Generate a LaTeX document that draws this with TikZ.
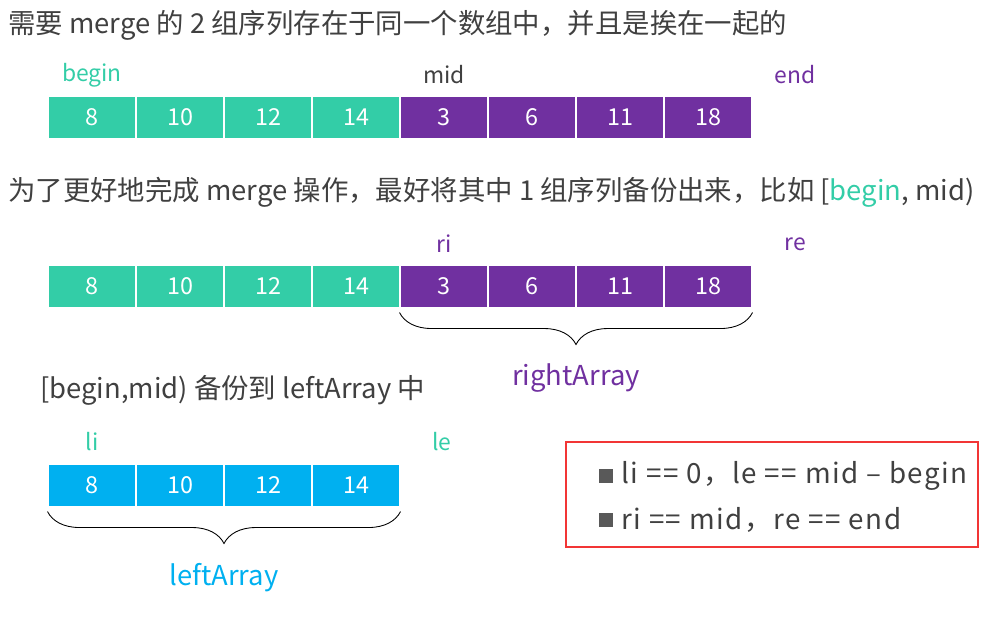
\documentclass[tikz,border=0pt]{standalone}
\usepackage{fontspec}
\setmainfont{Noto Sans CJK SC}
\usetikzlibrary{positioning,decorations.pathreplacing}
\definecolor{cgreen}{RGB}{51,205,167}
\definecolor{cpurple}{RGB}{112,48,160}
\definecolor{cblue}{RGB}{0,176,240}
\definecolor{ctext}{RGB}{64,64,64}
\definecolor{cred}{RGB}{242,53,53}
\definecolor{cbul}{RGB}{89,89,89}
\tikzset{
  ttl/.style={font=\fontsize{15.6}{18}\selectfont, text=ctext, inner sep=0pt},
  lbl/.style={font=\fontsize{13}{15}\selectfont, inner sep=0pt},
  cell/.style={draw=white, line width=0.6pt, text=white, minimum width=1.76cm,
    minimum height=0.86cm, inner sep=0pt, font=\fontsize{13.3}{15}\selectfont},
  brc/.style={decorate, decoration={brace, mirror, amplitude=0.64cm}, black, line width=0.5pt},
  arrlbl/.style={font=\fontsize{15.6}{18}\selectfont, inner sep=0pt},
  notebox/.style={draw=cred, line width=1.4pt, minimum width=8.24cm, minimum height=2.1cm},
  notetxt/.style={ttl, font=\fontsize{15.8}{18}\selectfont\addfontfeature{LetterSpace=5.5}},
  bul/.style={fill=cbul, minimum size=0.28cm, inner sep=0pt},
}
\begin{document}
\begin{tikzpicture}[x=0.02cm, y=-0.02cm]
\useasboundingbox (0,0) rectangle (999,617);
% first row: the whole array
\node[ttl, anchor=west] (t1) at (8,25) {需要 merge 的 2 组序列存在于同一个数组中，并且是挨在一起的};
\foreach \i/\v in {1/8, 2/10, 3/12, 4/14}{
  \node[cell, fill=cgreen] (a\i) at ({4+88*\i},117.5) {\v};}
\foreach \i/\v in {5/3, 6/6, 7/11, 8/18}{
  \node[cell, fill=cpurple] (a\i) at ({4+88*\i},117.5) {\v};}
\node[lbl, text=cgreen] (begin) at (92,75) {begin};
\node[lbl, text=ctext] (mid) at (444,75) {mid};
\node[lbl, text=cpurple] (end) at (795,75) {end};
% second row: rightArray
\node[ttl, anchor=west] (t2) at (8,192) {为了更好地完成 merge 操作，最好将其中 1 组序列备份出来，比如 [\textcolor{cgreen}{begin}, mid)};
\foreach \i/\v in {1/8, 2/10, 3/12, 4/14}{
  \node[cell, fill=cgreen] (b\i) at ({4+88*\i},286.5) {\v};}
\foreach \i/\v in {5/3, 6/6, 7/11, 8/18}{
  \node[cell, fill=cpurple] (b\i) at ({4+88*\i},286.5) {\v};}
\node[lbl, text=cpurple] (ri) at (444,244) {ri};
\node[lbl, text=cpurple] (re) at (795,244) {re};
\draw[brc] ([yshift=-0.08cm]b5.south west) -- ([yshift=-0.08cm]b8.south east);
\node[arrlbl, text=cpurple] (right) at (576,378) {rightArray};
% third row: leftArray
\node[ttl, anchor=west] (t3) at (40,390) {[begin,mid) 备份到 leftArray 中};
\foreach \i/\v in {1/8, 2/10, 3/12, 4/14}{
  \node[cell, fill=cblue] (c\i) at ({4+88*\i},485.5) {\v};}
\node[lbl, text=cgreen] (li) at (92,442) {li};
\node[lbl, text=cgreen] (le) at (442,442) {le};
\draw[brc] ([yshift=-0.08cm]c1.south west) -- ([yshift=-0.08cm]c4.south east);
\node[arrlbl, text=cblue] (left) at (224,578) {leftArray};
% note box
\node[notebox] (box) at (772,494.5) {};
\node[bul] (m1) at (606,476) {};
\node[notetxt, anchor=west] (n1) at (621,476) {li == 0，le == mid – begin};
\node[bul] (m2) at (606,520) {};
\node[notetxt, anchor=west] (n2) at (621,520) {ri == mid，re == end};
\end{tikzpicture}
\end{document}
